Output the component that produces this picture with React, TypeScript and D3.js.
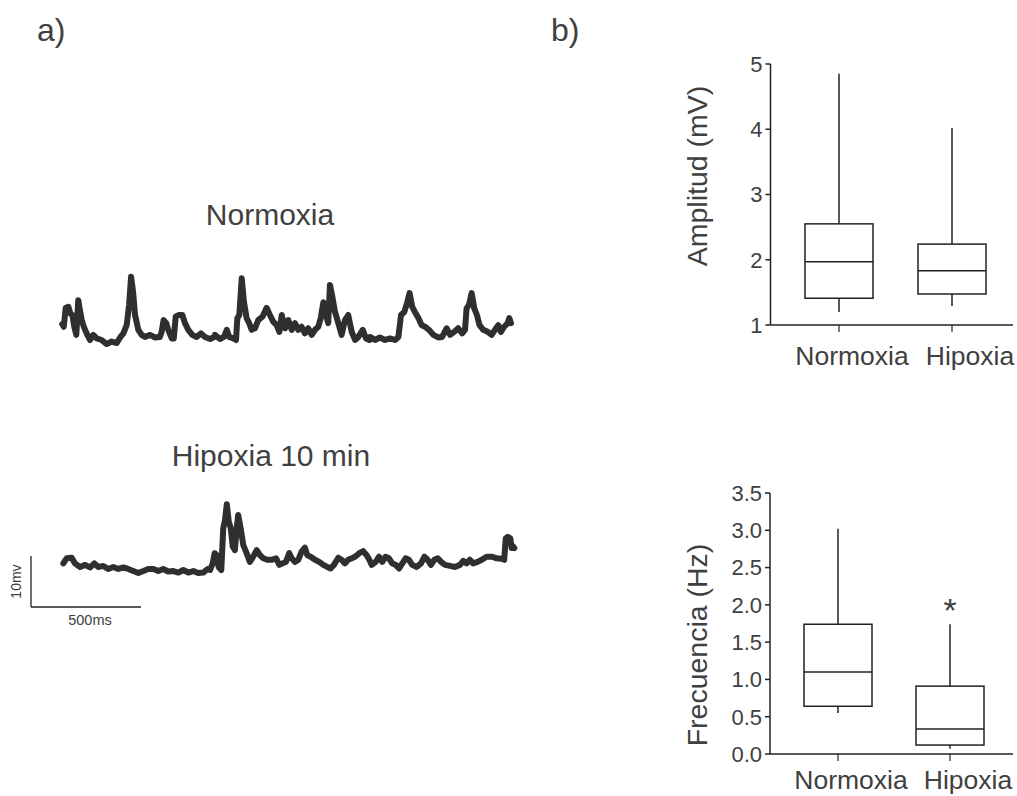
import React from "react";
import * as d3 from "d3";

// ---------- Data ----------
// Panel a) traces: time (ms) and voltage (mV, relative to baseline)
const normoxiaT = [1,8,17,29,38,47,56,65,74,83,90,99,112,127,142,158,180,203,226,249,264,279,294,305,314,323,332,347,362,377,400,423,445,453,462,474,483,499,508,517,532,547,559,574,592,612,632,650,673,692,695,718,736,749,760,779,791,797,806,817,827,839,851,862,877,892,912,930,945,960,976,988,999,1014,1029,1044,1059,1074,1089,1104,1119,1135,1150,1165,1176,1188,1200,1210,1218,1230,1241,1256,1271,1286,1301,1317,1332,1347,1367,1382,1397,1400,1423,1445,1468,1491,1514,1529,1541,1556,1568,1580,1592,1604,1620,1635,1650,1668,1688,1710,1728,1748,1764,1783,1801,1819,1832,1839,1850,1862,1874,1886,1898,1915,1935,1953,1968,1983,1995,2010,2026,2033,2041];
const normoxiaV = [3.1,2.6,6.3,6.5,5.2,4.9,2.6,1.0,7.8,5.5,3.9,2.6,1.3,0,1.0,0.3,0,-0.8,-0.3,-0.6,0.5,1.3,2.9,6.9,12.4,9.5,4.9,2.0,1.0,0.6,1.0,0.5,0.6,1.6,3.9,3.3,2.0,0.3,0.3,4.6,4.9,4.9,3.3,2.0,1.0,0.6,1.3,0.6,0.2,0.6,1.0,0.2,0.6,2.0,0.6,0.3,0,4.3,4.9,12.1,7.5,4.3,3.3,2.0,2.3,3.9,4.6,6.3,4.9,3.6,2.9,1.6,4.9,2.3,3.9,2.0,3.3,2.0,2.6,1.3,2.3,1.0,2.0,2.6,4.3,7.4,4.9,3.3,10.8,8.2,5.5,3.3,1.0,3.9,4.9,1.6,0,0.6,2.0,0.3,0,0.6,0,0.5,0,0.3,0,0.6,4.9,5.5,7.2,9.2,6.5,5.5,4.3,2.9,2.6,2.0,1.0,0.5,0.6,2.3,1.0,1.6,2.3,1.3,2.0,6.2,6.9,9.2,6.2,4.9,2.9,2.0,1.6,1.0,2.0,2.9,1.6,2.6,3.3,4.3,3.3];

const hipoxiaT = [6,21,44,59,82,105,127,147,165,188,210,233,256,279,301,324,347,370,392,415,438,460,483,506,529,551,574,597,619,642,662,673,685,694,703,712,724,733,741,749,758,767,776,786,794,801,812,824,839,854,869,885,900,915,933,953,973,988,1003,1018,1033,1044,1059,1074,1089,1104,1115,1130,1150,1169,1188,1206,1221,1236,1256,1271,1286,1301,1317,1332,1351,1369,1385,1397,1408,1426,1441,1456,1471,1486,1501,1517,1532,1547,1562,1577,1592,1612,1632,1647,1662,1677,1692,1708,1723,1741,1764,1786,1809,1824,1839,1854,1869,1889,1908,1930,1953,1976,1998,2010,2017,2026,2038,2044,2051,2056];
const hipoxiaV = [1.3,2.3,2.4,1.3,0.6,1.0,0.5,1.3,0.6,0.8,0.2,0.6,0.2,0.5,0.2,-0.2,-0.6,-0.2,0.2,0.2,-0.2,0.2,-0.3,-0.2,-0.5,0,-0.5,-0.2,-0.6,-0.5,0.2,0,1.3,3.3,2.9,0.6,0,8.2,9.8,12.9,9.5,8.2,4.6,3.9,8.2,10.8,8.2,4.9,3.3,1.6,2.6,3.9,2.9,2.3,2.0,2.0,2.3,1.0,1.3,1.6,3.3,2.3,1.6,2.0,3.6,4.4,2.9,2.6,2.0,1.6,1.0,0.6,0.3,1.0,2.4,2.0,1.3,2.0,2.3,2.6,3.3,3.7,2.9,2.0,1.0,1.6,2.6,1.6,2.6,2.3,1.3,1.0,0.3,1.3,2.3,2.0,1.0,0.6,1.3,2.6,2.0,1.0,2.0,2.3,1.6,1.0,0.8,0.6,1.0,1.8,1.3,2.0,1.3,1.6,2.0,2.6,2.6,2.3,2.2,2.0,6.2,6.5,6.2,4.3,4.6,4.3];

const traceTitles = ["Normoxia", "Hipoxia 10 min"];
const scaleBarMs = 500;
const scaleBarMv = 10;

// Panel b) box plots
const categories = ["Normoxia", "Hipoxia"];
// [min, q1, median, q3, max]
const amplitudNormoxia = [1.2, 1.41, 1.97, 2.55, 4.85];
const amplitudHipoxia = [1.29, 1.475, 1.83, 2.24, 4.02];
const frecuenciaNormoxia = [0.55, 0.64, 1.1, 1.74, 3.02];
const frecuenciaHipoxia = [0.07, 0.12, 0.335, 0.91, 1.74];
const amplitudTicks = [1, 2, 3, 4, 5];
const frecuenciaTicks = [0, 0.5, 1, 1.5, 2, 2.5, 3, 3.5];

const FONT = "'Liberation Sans', Arial, sans-serif";
const TXT = "#404040";
const INK = "#222";

function Trace({ t, v, y0 }: { t: number[]; v: number[]; y0: number }) {
  const x = d3.scaleLinear().domain([0, 500]).range([62, 172]);
  const y = d3.scaleLinear().domain([0, 10]).range([y0, y0 - 51]);
  const pts = t.map((tt, i) => [tt, v[i]] as [number, number]);
  const line = d3.line<[number, number]>().x((d) => x(d[0])).y((d) => y(d[1]));
  return (
    <path d={line(pts) || ""} fill="none" stroke="#2f2f2f" strokeWidth={6}
      strokeLinejoin="round" strokeLinecap="round" />
  );
}

function BoxPlot({ data, ticks, domain, yRange, xRange, title, titleY, fmt, labelY, star }:
  { data: number[][]; ticks: number[]; domain: [number, number]; yRange: [number, number];
    xRange: [number, number]; title: string; titleY: number; fmt: (n: number) => string;
    labelY: number; star?: boolean }) {
  const y = d3.scaleLinear().domain(domain).range(yRange);
  const x = d3.scalePoint<string>().domain(categories).range(xRange).padding(0.5);
  const axisX = xRange[0] - 12;
  const bw = 68;
  return (
    <g fontFamily={FONT}>
      <line x1={axisX} x2={axisX} y1={y(domain[1])} y2={y(domain[0])} stroke={INK} strokeWidth={1.5} />
      <line x1={axisX} x2={1013} y1={y(domain[0])} y2={y(domain[0])} stroke={INK} strokeWidth={1.5} />
      {ticks.map((tk) => (
        <g key={tk}>
          <line x1={axisX - 5} x2={axisX} y1={y(tk)} y2={y(tk)} stroke={INK} strokeWidth={1.5} />
          <text x={axisX - 8} y={y(tk)} dy="0.36em" textAnchor="end" fontSize={22} fill={TXT}>{fmt(tk)}</text>
        </g>
      ))}
      {categories.map((c) => (
        <g key={c}>
          <line x1={x(c)!} x2={x(c)!} y1={y(domain[0])} y2={y(domain[0]) + 7} stroke={INK} strokeWidth={1.2} />
          <text x={x(c)! + (c === "Normoxia" ? 13 : 18)} y={labelY} textAnchor="middle" fontSize={26.5} fill={TXT}>{c}</text>
        </g>
      ))}
      {data.map((d, i) => {
        const cx = x(categories[i])!;
        return (
          <g key={i} stroke={INK} strokeWidth={1.5} fill="none">
            <line x1={cx} x2={cx} y1={y(d[0])} y2={y(d[1])} />
            <line x1={cx} x2={cx} y1={y(d[3])} y2={y(d[4])} />
            <rect x={cx - bw / 2} y={y(d[3])} width={bw} height={y(d[1]) - y(d[3])} />
            <line x1={cx - bw / 2} x2={cx + bw / 2} y1={y(d[2])} y2={y(d[2])} />
          </g>
        );
      })}
      {star && (
        <text x={x(categories[1])!} y={y(data[1][4]) - 2} textAnchor="middle" fontSize={34} fill={TXT}>*</text>
      )}
      <text transform={`translate(707,${titleY}) rotate(-90)`} textAnchor="middle" fontSize={28.5} fill={TXT}>{title}</text>
    </g>
  );
}

export default function App() {
  const sx = d3.scaleLinear().domain([0, scaleBarMs]).range([31, 141]);
  const sy = d3.scaleLinear().domain([0, scaleBarMv]).range([607, 556]);
  return (
    <svg width={1017} height={796} style={{ position: "absolute", left: 0, top: 0, background: "#fff" }}>
      <rect width={1017} height={796} fill="#fff" />
      <g fontFamily={FONT} fill={TXT}>
        <text x={37} y={41} fontSize={32}>a)</text>
        <text x={551} y={41} fontSize={32}>b)</text>
        <text x={270} y={225} fontSize={30} textAnchor="middle">{traceTitles[0]}</text>
        <text x={271} y={466} fontSize={30} textAnchor="middle">{traceTitles[1]}</text>
      </g>
      <Trace t={normoxiaT} v={normoxiaV} y0={340} />
      <Trace t={hipoxiaT} v={hipoxiaV} y0={570} />
      {/* scale bar */}
      <g stroke={INK} strokeWidth={1.3}>
        <line x1={sx(0)} x2={sx(0)} y1={sy(0)} y2={sy(scaleBarMv)} />
        <line x1={sx(0)} x2={sx(scaleBarMs)} y1={sy(0)} y2={sy(0)} />
      </g>
      <text transform={`translate(21,${(sy(0) + sy(scaleBarMv)) / 2}) rotate(-90)`} textAnchor="middle"
        fontFamily={FONT} fontSize={14} fill={TXT}>{scaleBarMv}mv</text>
      <text x={90} y={625} textAnchor="middle" fontFamily={FONT} fontSize={14.5} fill={TXT}>{scaleBarMs}ms</text>

      <BoxPlot data={[amplitudNormoxia, amplitudHipoxia]} ticks={amplitudTicks} domain={[1, 5]}
        yRange={[325, 64]} xRange={[782.5, 1008.5]} title="Amplitud (mV)" titleY={176}
        fmt={(n) => d3.format("d")(n)} labelY={365} />
      <BoxPlot data={[frecuenciaNormoxia, frecuenciaHipoxia]} ticks={frecuenciaTicks} domain={[0, 3.5]}
        yRange={[754, 493]} xRange={[782, 1006]} title="Frecuencia (Hz)" titleY={645}
        fmt={(n) => d3.format(".1f")(n)} labelY={789} star />
    </svg>
  );
}
